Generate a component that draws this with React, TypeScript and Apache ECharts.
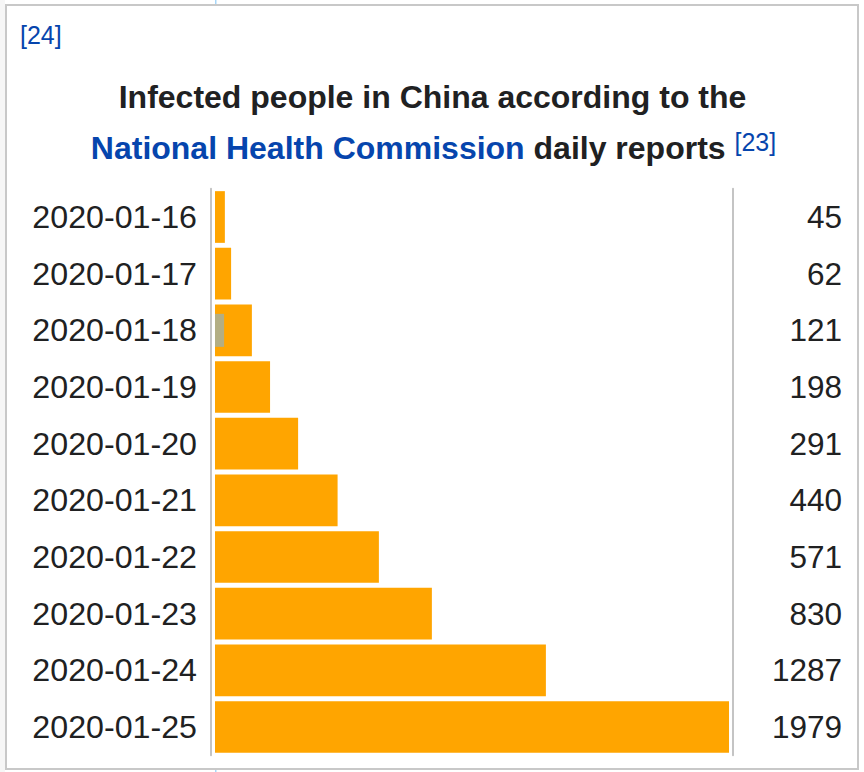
import React, { useEffect, useRef } from "react";
import * as echarts from "echarts";

const categories = [
  "2020-01-16",
  "2020-01-17",
  "2020-01-18",
  "2020-01-19",
  "2020-01-20",
  "2020-01-21",
  "2020-01-22",
  "2020-01-23",
  "2020-01-24",
  "2020-01-25",
];
// numbers printed at the right of each row
const reportedCases = [45, 62, 121, 198, 291, 440, 571, 830, 1287, 1979];
// lengths of the orange bars as drawn (same units)
const barLengths = [38, 62, 142, 212, 320, 472, 631, 835, 1274, 1979];
// small grey inner bar (only on 2020-01-18)
const greyBar = [null, null, 35, null, null, null, null, null, null, null];

const FONT = "'Liberation Sans', Arial, Helvetica, sans-serif";

export default function App() {
  const ref = useRef<HTMLDivElement>(null);
  useEffect(() => {
    if (!ref.current) return;
    const chart = echarts.init(ref.current, null, { renderer: "svg" });
    const axisLineStyle = { color: "#c4c4c4", width: 2 };
    chart.setOption({
      animation: false,
      backgroundColor: "#ffffff",
      grid: { left: 215, right: 135, top: 188.67, height: 566.67, containLabel: false },
      xAxis: { type: "value", min: 0, max: 1979, show: false },
      yAxis: [
        {
          type: "category",
          data: categories,
          inverse: true,
          position: "left",
          offset: 4,
          axisLine: { show: true, onZero: false, lineStyle: axisLineStyle },
          axisTick: { show: false },
          splitLine: { show: false },
          axisLabel: {
            margin: 14,
            fontSize: 32.2,
            lineHeight: 32,
            color: "#202122",
            fontFamily: FONT,
            padding: [0, 0, 6, 0],
          },
        },
        {
          type: "category",
          data: categories,
          inverse: true,
          position: "right",
          offset: 4,
          axisLine: { show: true, onZero: false, lineStyle: axisLineStyle },
          axisTick: { show: false },
          splitLine: { show: false },
          axisLabel: {
            margin: 109,
            align: "right",
            fontSize: 31.5,
            lineHeight: 32,
            color: "#202122",
            fontFamily: FONT,
            padding: [0, 0, 6, 0],
            formatter: (_v: string, i: number) => String(reportedCases[i]),
          },
        },
      ],
      series: [
        {
          type: "bar",
          yAxisIndex: 0,
          data: barLengths,
          barWidth: 51.7,
          itemStyle: { color: "#FFA500" },
          silent: true,
          z: 2,
        },
        {
          type: "bar",
          yAxisIndex: 1,
          data: greyBar,
          barWidth: 33,
          itemStyle: { color: "#b3ae84" },
          silent: true,
          z: 3,
        },
      ],
      graphic: [
        {
          type: "rect",
          shape: { x: 0, y: 0, width: 5, height: 772 },
          style: { fill: "#f6f6f6" },
          silent: true,
        },
        {
          type: "rect",
          shape: { x: 215, y: 0, width: 1.5, height: 4 },
          style: { fill: "#a7d7f9" },
          silent: true,
        },
        {
          type: "rect",
          shape: { x: 215, y: 770, width: 1.5, height: 2 },
          style: { fill: "#a7d7f9" },
          silent: true,
        },
        {
          type: "rect",
          shape: { x: 6, y: 5, width: 852, height: 764 },
          style: { fill: "none", stroke: "#c8c8c8", lineWidth: 2 },
          silent: true,
        },
        {
          type: "text",
          x: 20,
          y: 35,
          style: {
            text: "[24]",
            fill: "#0645ad",
            font: `25px ${FONT}`,
            align: "left",
            verticalAlign: "middle",
            textAlign: "left",
            textVerticalAlign: "middle",
          },
          silent: true,
        },
        {
          type: "text",
          x: 432.5,
          y: 97,
          style: {
            text: "Infected people in China according to the",
            fill: "#202122",
            font: `bold 32px ${FONT}`,
            align: "center",
            verticalAlign: "middle",
            textAlign: "center",
            textVerticalAlign: "middle",
          },
          silent: true,
        },
        {
          type: "text",
          x: 433.5,
          y: 148,
          style: {
            text: "{a|National Health Commission}{b| daily reports }{c|[23]}",
            font: `bold 32px ${FONT}`,
            align: "center",
            verticalAlign: "middle",
            textAlign: "center",
            textVerticalAlign: "middle",
            rich: {
              a: { fill: "#0645ad", color: "#0645ad", fontWeight: "bold", fontSize: 32, fontFamily: FONT, lineHeight: 38 },
              b: { fill: "#202122", color: "#202122", fontWeight: "bold", fontSize: 32, fontFamily: FONT, lineHeight: 38 },
              c: { fill: "#0645ad", color: "#0645ad", fontWeight: "normal", fontSize: 25, fontFamily: FONT, lineHeight: 38, verticalAlign: "top", padding: [0, 0, 16, 0] },
            },
          },
          silent: true,
        },
      ],
    });
    return () => chart.dispose();
  }, []);
  return (
    <div
      ref={ref}
      style={{ position: "absolute", left: 0, top: 0, width: 864, height: 772 }}
    />
  );
}
